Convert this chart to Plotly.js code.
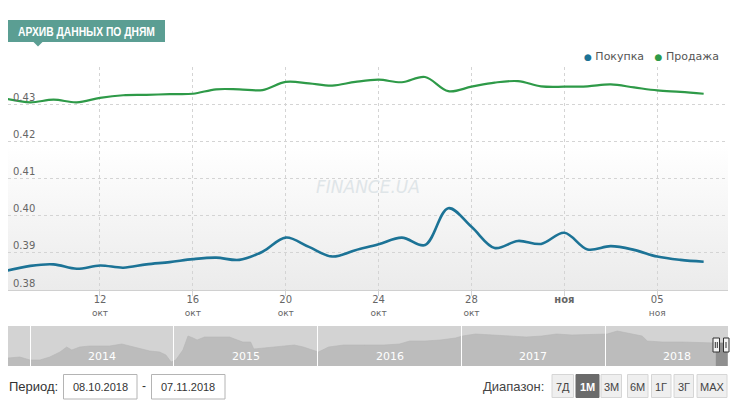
<!DOCTYPE html>
<html>
<head>
<meta charset="utf-8">
<script src="https://cdn.plot.ly/plotly-3.0.1.min.js"></script>
<style>
  html, body { margin: 0; padding: 0; background: #ffffff; }
  #chart { width: 737px; height: 416px; }
</style>
</head>
<body>
<div id="chart"></div>
<script>
// Daily archive, 08.10.2018 – 07.11.2018
const dates = [
  '2018-10-08','2018-10-09','2018-10-10','2018-10-11','2018-10-12','2018-10-13','2018-10-14',
  '2018-10-15','2018-10-16','2018-10-17','2018-10-18','2018-10-19','2018-10-20','2018-10-21',
  '2018-10-22','2018-10-23','2018-10-24','2018-10-25','2018-10-26','2018-10-27','2018-10-28',
  '2018-10-29','2018-10-30','2018-10-31','2018-11-01','2018-11-02','2018-11-03','2018-11-04',
  '2018-11-05','2018-11-06','2018-11-07'
];
const buyRates = [
  0.3852, 0.3865, 0.3869, 0.3857, 0.3866, 0.3860, 0.3869,
  0.3875, 0.3883, 0.3887, 0.3881, 0.3903, 0.3941, 0.3916,
  0.3890, 0.3907, 0.3923, 0.3941, 0.3921, 0.4020, 0.3970,
  0.3913, 0.3932, 0.3924, 0.3954, 0.3909, 0.3918, 0.3908,
  0.3890, 0.3881, 0.3876
];
const sellRates = [
  0.4314, 0.4305, 0.4312, 0.4305, 0.4317, 0.4324, 0.4325,
  0.4327, 0.4328, 0.4340, 0.4340, 0.4338, 0.4360, 0.4356,
  0.4350, 0.4360, 0.4366, 0.4359, 0.4373, 0.4335, 0.4347,
  0.4358, 0.4362, 0.4348, 0.4347, 0.4348, 0.4353, 0.4345,
  0.4337, 0.4333, 0.4328
];
const seriesNames = ['Покупка', 'Продажа'];
const titleText = 'АРХИВ ДАННЫХ ПО ДНЯМ';

// Axis labels
const xTickDates  = ['2018-10-12','2018-10-16','2018-10-20','2018-10-24','2018-10-28','2018-11-01','2018-11-05'];
const xTickDays   = ['12','16','20','24','28','','05'];
const xTickMonths = ['окт','окт','окт','окт','окт','ноя','ноя'];
const yTickValues = [0.38, 0.39, 0.40, 0.41, 0.42, 0.43, 0.44];
const yTickLabels = ['0.38','0.39','0.40','0.41','0.42','0.43',''];

// Long-range history shown in the navigator strip
const navDates = [
  '2013-11-06','2013-12-06','2014-01-01','2014-01-26','2014-02-20','2014-03-18','2014-04-04',
  '2014-04-17','2014-05-07','2014-06-01','2014-06-27','2014-07-22','2014-08-22','2014-09-11',
  '2014-10-06','2014-11-01','2014-11-26','2014-12-12','2014-12-25','2015-01-06','2015-01-24',
  '2015-02-06','2015-02-19','2015-03-01','2015-03-20','2015-04-22','2015-05-22','2015-06-25',
  '2015-07-15','2015-07-23','2015-08-15','2015-09-23','2015-11-03','2015-11-26','2015-12-22',
  '2016-01-03','2016-01-29','2016-03-07','2016-04-28','2016-06-18','2016-07-27','2016-08-22',
  '2016-09-30','2016-11-07','2016-12-16','2017-01-03','2017-02-05','2017-03-17','2017-05-07',
  '2017-06-14','2017-07-23','2017-08-30','2017-10-08','2017-11-28','2018-01-05','2018-01-31',
  '2018-02-25','2018-04-04','2018-04-17','2018-05-25','2018-07-15','2018-09-04','2018-10-08',
  '2018-11-07'
];
const navLevels = [
   8,  9,  6,  6,  9, 14, 19,
  16, 19, 20, 20, 20, 22, 20,
  18, 15, 14, 11,  4,  6, 16,
  30, 28, 26, 29, 29, 29, 24,
  24, 17, 18, 19, 21, 19, 16,
  14, 19, 21, 21, 21, 22, 25,
  25, 26, 28, 30, 32, 31, 30,
  29, 30, 32, 31, 32, 32, 35,
  33, 30, 25, 24, 24, 23, 23,
  23
];
const yearLabels = ['2014','2015','2016','2017','2018'];
const yearMids   = ['2014-07-02','2015-07-02','2016-07-02','2017-07-02','2018-07-02'];
const yearStarts = ['2014-01-01','2015-01-01','2016-01-01','2017-01-01','2018-01-01'];
const selectedFrom = '2018-10-08';

// Controls
const periodFrom = '08.10.2018';
const periodTo = '07.11.2018';
const rangeButtons = ['7Д','1М','3М','6М','1Г','3Г','MAX'];
const activeRange = '1М';

// ---- page geometry (pixels -> paper units) ----
const W = 737, H = 416;
const M = { l: 8, r: 9, t: 67, b: 50 };
const PW = W - M.l - M.r, PH = H - M.t - M.b;
const X = px => (px - M.l) / PW;
const Y = py => (H - M.b - py) / PH;

const BLUE = '#1c7396';
const GREEN = '#2e9a48';
const TEAL = '#5b9e93';
const AXIS_FONT = 'DejaVu Sans, Verdana, sans-serif';
const UI_FONT = 'Liberation Sans, Arial, sans-serif';
const BADGE_TEXT_WIDTH = 137;   // badge caption is squeezed to this width

const xTickText = xTickDays.map((d, i) =>
  d === '' ? '<b>' + xTickMonths[i] + '</b>'
           : d + '<br><span style="font-size:9px">' + xTickMonths[i] + '</span>');

const selDates = [], selLevels = [];
navDates.forEach((d, i) => { if (d >= selectedFrom) { selDates.push(d); selLevels.push(navLevels[i]); } });

const traces = [
  { x: dates, y: buyRates, name: seriesNames[0], type: 'scatter', mode: 'lines',
    line: { color: BLUE, width: 2.6, shape: 'spline', smoothing: 1 }, xaxis: 'x', yaxis: 'y' },
  { x: dates, y: sellRates, name: seriesNames[1], type: 'scatter', mode: 'lines',
    line: { color: GREEN, width: 2.2, shape: 'spline', smoothing: 1 }, xaxis: 'x', yaxis: 'y' },
  { x: navDates, y: navLevels, type: 'scatter', mode: 'lines', fill: 'tozeroy',
    fillcolor: '#bcbcbc', line: { color: '#b6b6b6', width: 0.6 }, xaxis: 'x2', yaxis: 'y2' },
  { x: selDates, y: selLevels, type: 'scatter', mode: 'lines', fill: 'tozeroy',
    fillcolor: '#8f8f8f', line: { color: '#8f8f8f', width: 0.6 }, xaxis: 'x2', yaxis: 'y2' }
];

// Soft vertical gradient behind the main plot
const gradSvg = '<svg xmlns="http://www.w3.org/2000/svg" width="10" height="100" viewBox="0 0 10 100" preserveAspectRatio="none">' +
  '<defs><linearGradient id="g" x1="0" y1="0" x2="0" y2="1">' +
  '<stop offset="0" stop-color="#ffffff"/><stop offset="0.35" stop-color="#ffffff"/>' +
  '<stop offset="1" stop-color="#ebebeb"/></linearGradient></defs>' +
  '<rect width="10" height="100" fill="url(#g)"/></svg>';
const mainBottom = Y(290);

const shapes = [
  // navigator background
  { type: 'rect', xref: 'paper', yref: 'paper', x0: 0, x1: 1, y0: 0, y1: Y(326),
    fillcolor: '#d3d3d3', line: { width: 0 }, layer: 'below' },
  // title badge with pointer
  { type: 'rect', xref: 'paper', yref: 'paper', x0: X(8), x1: X(165), y0: Y(42), y1: Y(20),
    fillcolor: TEAL, line: { width: 0 } },
  { type: 'path', xref: 'paper', yref: 'paper',
    path: `M ${X(33)} ${Y(41.5)} L ${X(43)} ${Y(41.5)} L ${X(38)} ${Y(46.5)} Z`,
    fillcolor: TEAL, line: { width: 0 } },
  // navigator handles
  { type: 'rect', xref: 'paper', yref: 'paper', x0: X(713), x1: X(719.5), y0: Y(352), y1: Y(338),
    fillcolor: '#f4f4f4', line: { color: '#333', width: 1 } },
  { type: 'line', xref: 'paper', yref: 'paper', x0: X(715.3), x1: X(715.3), y0: Y(348), y1: Y(342),
    line: { color: '#333', width: 1 } },
  { type: 'line', xref: 'paper', yref: 'paper', x0: X(717.3), x1: X(717.3), y0: Y(348), y1: Y(342),
    line: { color: '#333', width: 1 } },
  { type: 'rect', xref: 'paper', yref: 'paper', x0: X(723.5), x1: X(729), y0: Y(352), y1: Y(338),
    fillcolor: '#f4f4f4', line: { color: '#333', width: 1 } },
  { type: 'line', xref: 'paper', yref: 'paper', x0: X(726), x1: X(726), y0: Y(348), y1: Y(342),
    line: { color: '#333', width: 1 } },
  // date boxes
  { type: 'rect', xref: 'paper', yref: 'paper', x0: X(63.5), x1: X(137), y0: Y(399), y1: Y(374.5),
    fillcolor: '#ffffff', line: { color: '#b4b4b4', width: 1 } },
  { type: 'rect', xref: 'paper', yref: 'paper', x0: X(151.5), x1: X(225), y0: Y(399), y1: Y(374.5),
    fillcolor: '#ffffff', line: { color: '#b4b4b4', width: 1 } }
];

const annotations = [
  { xref: 'paper', yref: 'paper', x: X(86.5), y: Y(31.5), xanchor: 'center', yanchor: 'middle',
    text: '<b>' + titleText + '</b>', showarrow: false,
    font: { family: UI_FONT, size: 13, color: '#ffffff' } },
  { xref: 'paper', yref: 'paper', x: X(721), y: Y(56), xanchor: 'right', yanchor: 'middle', showarrow: false,
    text: '<span style="color:' + BLUE + ';font-size:9px">●</span> ' + seriesNames[0] +
          '   <span style="color:' + GREEN + ';font-size:9px">●</span> ' + seriesNames[1],
    font: { family: AXIS_FONT, size: 11, color: '#555' } },
  { xref: 'paper', yref: 'paper', x: X(368), y: Y(187), xanchor: 'center', yanchor: 'middle', showarrow: false,
    text: '<i>FINANCE.UA</i>', font: { family: AXIS_FONT, size: 17, color: '#dfe5e8' } },
  { xref: 'paper', yref: 'paper', x: X(7), y: Y(386.5), xanchor: 'left', yanchor: 'middle', showarrow: false,
    text: 'Период:', font: { family: UI_FONT, size: 13, color: '#333' } },
  { xref: 'paper', yref: 'paper', x: X(100.2), y: Y(386.5), xanchor: 'center', yanchor: 'middle', showarrow: false,
    text: periodFrom, font: { family: UI_FONT, size: 11, color: '#333' } },
  { xref: 'paper', yref: 'paper', x: X(144), y: Y(385.5), xanchor: 'center', yanchor: 'middle', showarrow: false,
    text: '-', font: { family: UI_FONT, size: 12, color: '#333' } },
  { xref: 'paper', yref: 'paper', x: X(188.2), y: Y(386.5), xanchor: 'center', yanchor: 'middle', showarrow: false,
    text: periodTo, font: { family: UI_FONT, size: 11, color: '#333' } },
  { xref: 'paper', yref: 'paper', x: X(546), y: Y(386), xanchor: 'right', yanchor: 'middle', showarrow: false,
    text: 'Диапазон:', font: { family: UI_FONT, size: 13, color: '#444' } }
];

// year captions and range buttons
yearLabels.forEach((t, i) => annotations.push({
  xref: 'x2', yref: 'paper', x: yearMids[i], y: Y(356.5), xanchor: 'center', yanchor: 'middle',
  showarrow: false, text: t, font: { family: AXIS_FONT, size: 11, color: '#ffffff' } }));

const btnLeft  = [552, 576, 601, 627.5, 651.5, 674, 697];
const btnRight = [573.5, 599, 621.5, 648, 671, 693.5, 727];
rangeButtons.forEach((t, i) => {
  const on = t === activeRange;
  shapes.push({ type: 'rect', xref: 'paper', yref: 'paper', x0: X(btnLeft[i]), x1: X(btnRight[i]),
    y0: Y(397.5), y1: Y(374.5), fillcolor: on ? '#6b6b6b' : '#efefef',
    line: { color: on ? '#6b6b6b' : '#d6d6d6', width: 1 } });
  annotations.push({ xref: 'paper', yref: 'paper', x: X((btnLeft[i] + btnRight[i]) / 2), y: Y(386.5),
    xanchor: 'center', yanchor: 'middle', showarrow: false,
    text: on ? '<b>' + t + '</b>' : t,
    font: { family: UI_FONT, size: 11, color: on ? '#ffffff' : '#444' } });
});

const layout = {
  width: W, height: H,
  margin: M,
  paper_bgcolor: '#ffffff',
  plot_bgcolor: 'rgba(0,0,0,0)',
  showlegend: false,
  images: [{
    source: 'data:image/svg+xml;charset=utf-8,' + encodeURIComponent(gradSvg),
    xref: 'paper', yref: 'paper', x: 0, y: 1, sizex: 1, sizey: 1 - mainBottom,
    xanchor: 'left', yanchor: 'top', sizing: 'stretch', layer: 'below'
  }],
  xaxis: {
    type: 'date', domain: [0, 1], anchor: 'y',
    range: ['2018-10-08 00:55', '2018-11-08 01:10'],
    tickmode: 'array', tickvals: xTickDates, ticktext: xTickText,
    tickfont: { family: AXIS_FONT, size: 10, color: '#666' },
    ticks: 'outside', ticklen: 5, tickcolor: '#d4d4d4', ticklabelstandoff: -5,
    showgrid: true, gridcolor: '#d4d4d4', griddash: '3px,3px', gridwidth: 1,
    showline: true, linecolor: '#d0d0d0', linewidth: 1,
    zeroline: false, fixedrange: true
  },
  yaxis: {
    domain: [mainBottom, 1], anchor: 'x',
    range: [0.38, 0.44],
    tickmode: 'array', tickvals: yTickValues, ticktext: yTickLabels,
    ticklabelposition: 'inside top', ticklabelstandoff: 2,
    tickfont: { family: AXIS_FONT, size: 10, color: '#666' },
    ticks: '', showgrid: true, gridcolor: '#d4d4d4', griddash: '3px,3px', gridwidth: 1,
    showline: false, zeroline: false, fixedrange: true
  },
  xaxis2: {
    type: 'date', domain: [0, 1], anchor: 'y2',
    range: ['2013-11-06', '2018-11-08'],
    showticklabels: false, ticks: '', showgrid: false, zeroline: false, showline: false,
    tickmode: 'array', tickvals: yearStarts,
    minor: { tickmode: 'array', tickvals: yearStarts, ticks: 'inside', ticklen: 40,
             tickcolor: '#ffffff', tickwidth: 1, showgrid: false },
    layer: 'above traces', fixedrange: true
  },
  yaxis2: {
    domain: [0, Y(326)], anchor: 'x2', range: [0, 40],
    showticklabels: false, ticks: '', showgrid: false, zeroline: false, showline: false, fixedrange: true
  },
  shapes: shapes,
  annotations: annotations
};

Plotly.newPlot('chart', traces, layout, { staticPlot: true, displayModeBar: false }).then(gd => {
  // condense the badge caption horizontally so it fits inside the badge
  const cap = Array.from(gd.querySelectorAll('.annotation-text')).find(n => n.textContent === titleText);
  if (!cap) return;
  const bb = cap.getBBox();
  const s = BADGE_TEXT_WIDTH / bb.width;
  if (s < 1) {
    const cx = bb.x + bb.width / 2;
    cap.setAttribute('transform', `translate(${cx} 0) scale(${s} 1) translate(${-cx} 0)`);
  }
});
</script>
</body>
</html>
